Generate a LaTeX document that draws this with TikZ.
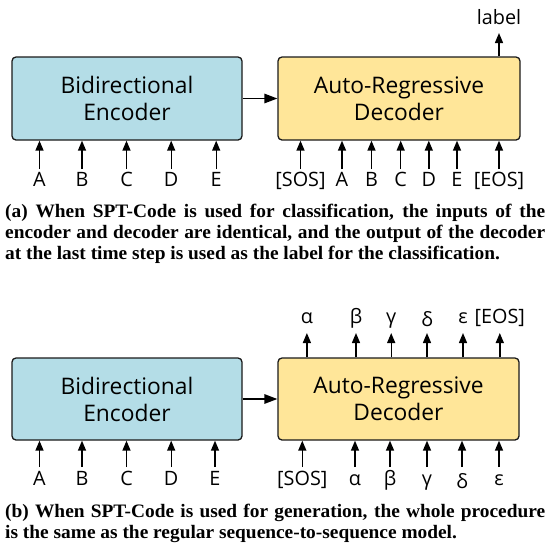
\documentclass[tikz,border=0pt]{standalone}
\usepackage{fontspec}
\setmainfont{Open Sans}
\newfontfamily\capfont[FakeStretch=1.02]{Liberation Serif}
\usetikzlibrary{arrows.meta}
\definecolor{encblue}{HTML}{B4DDE7}
\definecolor{decyellow}{HTML}{FFE699}
\definecolor{edge}{HTML}{1A1A1A}
\begin{document}
\begin{tikzpicture}[x=1pt,y=-1pt,
  box/.style={draw=edge, line width=1.3pt, rounded corners=4pt, inner sep=0pt, align=center,
    font=\fontsize{22.8}{27}\selectfont},
  enc/.style={box, fill=encblue},
  dec/.style={box, fill=decyellow},
  arr/.style={-{Triangle[length=10pt,width=8pt]}, line width=1.4pt, draw=black},
  bigarr/.style={-{Triangle[length=13pt,width=9.5pt]}, line width=1.4pt, draw=black},
  tok/.style={font=\fontsize{19.8}{22}\selectfont, anchor=base, inner sep=0pt},
  captext/.style={font=\capfont\bfseries\fontsize{19}{22}\selectfont, anchor=base west, inner sep=0pt}]
\useasboundingbox (0,0) rectangle (549,550);

% ---------- (a) ----------
\node[enc, minimum width=230pt, minimum height=83pt] (encA) at (127,98.5) {Bidirectional\\Encoder};
\node[dec, minimum width=242pt, minimum height=83pt] (decA) at (399,98.5) {Auto-Regressive\\Decoder};
\draw[bigarr] (encA.east) -- (decA.west);

\foreach \x/\t/\n in {39.5/A/1, 82/B/2, 126.5/C/3, 171.2/D/4, 216.2/E/5}{
  \node[tok] (ta\n) at (\x,186) {\t};
  \coordinate (tac\n) at (\x,169);
  \draw[arr] (tac\n) -- (tac\n |- encA.south);
}
\foreach \x/\t/\n in {300.5/{[SOS]}/1, 342/A/2, 371.5/B/3, 400.7/C/4, 428.8/D/5, 457/E/6, 499/{[EOS]}/7}{
  \node[tok] (tb\n) at (\x,186) {\t};
  \coordinate (tbc\n) at (\x,169);
  \draw[arr] (tbc\n) -- (tbc\n |- decA.south);
}
\node[tok] (lbl) at (499,24) {label};
\coordinate (lblc) at (499,33);
\draw[arr] (lblc |- decA.north) -- (lblc);

\node[captext] (capa1) at (5,217) {\hbox to 540pt{(a) When SPT-Code is used for classification, the inputs of the}};
\node[captext] (capa2) at (5,238) {\hbox to 540pt{encoder and decoder are identical, and the output of the decoder}};
\node[captext] (capa3) at (5,259) {at the last time step is used as the label for the classification.};

% ---------- (b) ----------
\node[enc, minimum width=230pt, minimum height=82pt] (encB) at (127,399) {Bidirectional\\Encoder};
\node[dec, minimum width=241pt, minimum height=82pt] (decB) at (398.5,399) {Auto-Regressive\\Decoder};
\draw[bigarr] (encB.east) -- (decB.west);

\foreach \x/\t/\n in {39.5/A/1, 82/B/2, 126.5/C/3, 171.2/D/4, 215/E/5}{
  \node[tok] (tc\n) at (\x,485) {\t};
  \coordinate (tcc\n) at (\x,467);
  \draw[arr] (tcc\n) -- (tcc\n |- encB.south);
}
\foreach \x/\t/\n/\s in {302.3/{[SOS]}/1/0, 355/α/2/0, 390/β/3/0, 427/γ/4/0, 462/δ/5/3, 499/ε/6/0}{
  \node[tok, yshift=-\s pt] (td\n) at (\x,485) {\t};
  \coordinate (tdc\n) at (\x,467);
  \draw[arr] (tdc\n) -- (tdc\n |- decB.south);
}
\foreach \x/\t/\n/\s in {306.9/α/1/0, 356/β/2/0, 391.2/γ/3/0, 427/δ/4/3, 463/ε/5/0, 499.8/{[EOS]}/6/0}{
  \node[tok, yshift=-\s pt] (te\n) at (\x,323) {\t};
  \coordinate (tec\n) at (\x,333);
  \draw[arr] (tec\n |- decB.north) -- (tec\n);
}

\node[captext] (capb1) at (5,517) {\hbox to 540pt{(b) When SPT-Code is used for generation, the whole procedure}};
\node[captext] (capb2) at (5,538) {is the same as the regular sequence-to-sequence model.};
\end{tikzpicture}
\end{document}
